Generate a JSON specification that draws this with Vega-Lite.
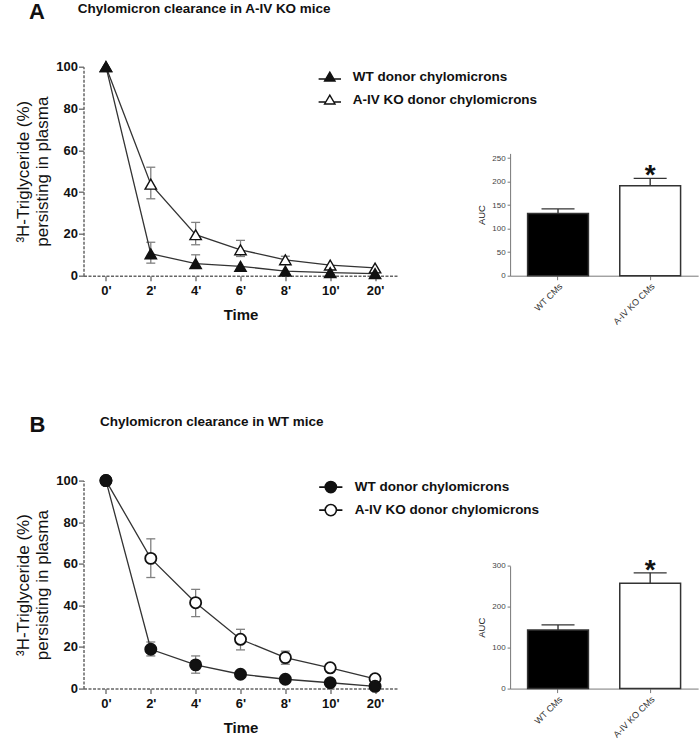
{
  "$schema": "https://vega.github.io/schema/vega-lite/v6.json",
  "padding": {"left": 14.5, "top": 0.7, "right": 0, "bottom": 0},
  "config": {"font": "Liberation Sans", "view": {"stroke": null}, "axis": {"grid": false}},
  "datasets": {
    "lineA": [
      {"time": "0'", "group": "A-IV KO donor chylomicrons", "value": 100},
      {"time": "2'", "group": "A-IV KO donor chylomicrons", "value": 43.8, "lo": 36.8, "hi": 51.9},
      {"time": "4'", "group": "A-IV KO donor chylomicrons", "value": 19.6, "lo": 14.8, "hi": 25.5},
      {"time": "6'", "group": "A-IV KO donor chylomicrons", "value": 12.4, "lo": 9.2, "hi": 16.9},
      {"time": "8'", "group": "A-IV KO donor chylomicrons", "value": 7.6, "lo": 6.0, "hi": 9.3},
      {"time": "10'", "group": "A-IV KO donor chylomicrons", "value": 5.1},
      {"time": "20'", "group": "A-IV KO donor chylomicrons", "value": 3.7},
      {"time": "0'", "group": "WT donor chylomicrons", "value": 100},
      {"time": "2'", "group": "WT donor chylomicrons", "value": 10.5, "lo": 6.0, "hi": 16.0},
      {"time": "4'", "group": "WT donor chylomicrons", "value": 5.8, "lo": 3.7, "hi": 10.0},
      {"time": "6'", "group": "WT donor chylomicrons", "value": 4.5},
      {"time": "8'", "group": "WT donor chylomicrons", "value": 2.2},
      {"time": "10'", "group": "WT donor chylomicrons", "value": 1.5},
      {"time": "20'", "group": "WT donor chylomicrons", "value": 1.0}
    ],
    "lineB": [
      {"time": "0'", "group": "A-IV KO donor chylomicrons", "value": 100},
      {"time": "2'", "group": "A-IV KO donor chylomicrons", "value": 62.6, "lo": 53.4, "hi": 72.0},
      {"time": "4'", "group": "A-IV KO donor chylomicrons", "value": 41.3, "lo": 34.6, "hi": 47.7},
      {"time": "6'", "group": "A-IV KO donor chylomicrons", "value": 23.7, "lo": 18.6, "hi": 28.5},
      {"time": "8'", "group": "A-IV KO donor chylomicrons", "value": 14.9, "lo": 11.7, "hi": 18.0},
      {"time": "10'", "group": "A-IV KO donor chylomicrons", "value": 10.0},
      {"time": "20'", "group": "A-IV KO donor chylomicrons", "value": 4.7},
      {"time": "0'", "group": "WT donor chylomicrons", "value": 100},
      {"time": "2'", "group": "WT donor chylomicrons", "value": 18.9, "lo": 15.7, "hi": 22.4},
      {"time": "4'", "group": "WT donor chylomicrons", "value": 11.4, "lo": 7.4, "hi": 15.7},
      {"time": "6'", "group": "WT donor chylomicrons", "value": 6.9},
      {"time": "8'", "group": "WT donor chylomicrons", "value": 4.5},
      {"time": "10'", "group": "WT donor chylomicrons", "value": 2.8},
      {"time": "20'", "group": "WT donor chylomicrons", "value": 1.1}
    ],
    "barA": [
      {"cat": "WT CMs", "auc": 132, "err": 142, "sig": ""},
      {"cat": "A-IV KO CMs", "auc": 191, "err": 207, "sig": "*"}
    ],
    "barB": [
      {"cat": "WT CMs", "auc": 143.5, "err": 155.7, "sig": ""},
      {"cat": "A-IV KO CMs", "auc": 257.6, "err": 283, "sig": "*"}
    ]
  },
  "resolve": {"scale": {"fill": "independent", "color": "independent"}},
  "spacing": 86.9,
  "vconcat": [
    {
      "title": {"text": "A", "anchor": "start", "frame": "group", "fontSize": 22, "fontWeight": "bold", "color": "#111", "offset": 0, "dx": -54.5, "dy": 22},
      "bounds": "flush",
      "spacing": 112.6,
      "resolve": {"scale": {"fill": "independent", "color": "independent"}},
      "hconcat": [
        {
          "width": 314, "height": 209,
          "data": {"name": "lineA"},
          "title": {"text": "Chylomicron clearance in A-IV KO mice", "anchor": "start", "frame": "group", "fontSize": 13.5, "fontWeight": "bold", "color": "#111", "offset": 43, "dx": -5.7},
          "encoding": {
            "x": {"field": "time", "type": "ordinal", "sort": ["0'", "2'", "4'", "6'", "8'", "10'", "20'"], "scale": {"type": "point", "padding": 0.5},
              "axis": {"title": "Time", "labelAngle": 0, "labelFontSize": 13, "labelFontWeight": "bold", "labelColor": "#111", "labelPadding": 4, "tickSize": 5, "tickColor": "#666", "tickWidth": 1.3, "domainColor": "#666", "domainWidth": 1.5, "domainDash": [3, 1.5], "titleFontSize": 15, "titleFontWeight": "bold", "titleColor": "#111", "titlePadding": 10}}
          },
          "layer": [
            {"mark": {"type": "rule", "color": "#808080", "strokeWidth": 1.3},
             "encoding": {"y": {"field": "lo", "type": "quantitative", "scale": {"domain": [0, 100]}, "axis": {"title": ["³H-Triglyceride (%)", "persisting in plasma"], "values": [0, 20, 40, 60, 80, 100], "labelFontSize": 13, "labelFontWeight": "bold", "labelColor": "#111", "labelPadding": 1, "tickSize": 5, "tickColor": "#666", "tickWidth": 1.3, "domainColor": "#666", "domainWidth": 1.5, "domainDash": [3, 1.5], "titleFontSize": 17, "titleFontWeight": "normal", "titleColor": "#111", "titlePadding": 4, "titleLineHeight": 19}}, "y2": {"field": "hi"}}},
            {"mark": {"type": "tick", "color": "#808080", "size": 9, "thickness": 1.3, "opacity": 1},
             "encoding": {"y": {"field": "lo", "type": "quantitative"}}},
            {"mark": {"type": "tick", "color": "#808080", "size": 9, "thickness": 1.3, "opacity": 1},
             "encoding": {"y": {"field": "hi", "type": "quantitative"}}},
            {"mark": {"type": "line", "color": "#333", "strokeWidth": 1.3},
             "encoding": {"y": {"field": "value", "type": "quantitative"}, "detail": {"field": "group"}}},
            {"mark": {"type": "point", "shape": "triangle-up", "filled": true, "size": 130, "stroke": "#111", "strokeWidth": 1.4, "opacity": 1},
             "encoding": {"y": {"field": "value", "type": "quantitative"},
               "fill": {"field": "group", "type": "nominal", "scale": {"domain": ["WT donor chylomicrons", "A-IV KO donor chylomicrons"], "range": ["#111", "#ffffff"]},
                 "legend": {"title": null, "orient": "none", "legendX": 237.3, "legendY": 1.3, "padding": 0, "labelFontSize": 13.5, "labelFontWeight": "bold", "labelColor": "#111", "labelOffset": 14, "labelLimit": 400, "rowPadding": 7, "symbolSize": 256, "symbolStrokeColor": "#111", "symbolStrokeWidth": 1.4,
                   "symbolType": "M-1.4,0.25H-0.5M0.5,0.25H1.4M0,-0.6L0.65,0.5L-0.65,0.5Z",
                   "encode": {"symbols": {"shape": {"value": "M-1.4,0.25H-0.5M0.5,0.25H1.4M0,-0.6L0.65,0.5L-0.65,0.5Z"}, "size": {"value": 256}, "stroke": {"value": "#111"}, "strokeWidth": {"value": 1.4}, "opacity": {"value": 1}}}}}}}
          ]
        },
        {
          "width": 188, "height": 209,
          "data": {"name": "barA"},
          "encoding": {
            "x": {"field": "cat", "type": "nominal", "sort": ["WT CMs", "A-IV KO CMs"], "scale": {"paddingInner": 0.34, "paddingOuter": 0.19},
              "axis": {"title": null, "labelAngle": -45, "labelFontSize": 9, "labelColor": "#333", "tickSize": 4, "tickColor": "#777", "domainColor": "#777", "labelPadding": 2}}
          },
          "layer": [
            {"mark": {"type": "bar", "stroke": "#333", "strokeWidth": 1.5},
             "encoding": {"y": {"field": "auc", "type": "quantitative", "scale": {"domain": [0, 250], "range": [209, 86.7]},
               "axis": {"title": "AUC", "values": [0, 50, 100, 150, 200, 250], "labelFontSize": 8, "labelColor": "#444", "tickSize": 3, "tickColor": "#777", "domainColor": "#777", "titleFontSize": 9.5, "titleFontWeight": "normal", "titleColor": "#222", "titlePadding": 5}},
               "color": {"field": "cat", "type": "nominal", "scale": {"domain": ["WT CMs", "A-IV KO CMs"], "range": ["#000000", "#ffffff"]}, "legend": null}}},
            {"mark": {"type": "rule", "color": "#333", "strokeWidth": 1.4},
             "encoding": {"y": {"field": "auc", "type": "quantitative"}, "y2": {"field": "err"}}},
            {"mark": {"type": "tick", "color": "#333", "size": 33, "thickness": 1.4, "opacity": 1},
             "encoding": {"y": {"field": "err", "type": "quantitative"}}},
            {"mark": {"type": "text", "fontSize": 28, "fontWeight": "bold", "color": "#111", "baseline": "alphabetic", "dy": 6},
             "encoding": {"y": {"field": "err", "type": "quantitative"}, "text": {"field": "sig"}}}
          ]
        }
      ]
    },
    {
      "title": {"text": "B", "anchor": "start", "frame": "group", "fontSize": 22, "fontWeight": "bold", "color": "#111", "offset": 0, "dx": -54, "dy": 22},
      "bounds": "flush",
      "spacing": 112.6,
      "resolve": {"scale": {"fill": "independent", "color": "independent"}},
      "hconcat": [
        {
          "width": 314, "height": 208,
          "data": {"name": "lineB"},
          "title": {"text": "Chylomicron clearance in WT mice", "anchor": "start", "frame": "group", "fontSize": 13.5, "fontWeight": "bold", "color": "#111", "offset": 43, "dx": 16.6},
          "encoding": {
            "x": {"field": "time", "type": "ordinal", "sort": ["0'", "2'", "4'", "6'", "8'", "10'", "20'"], "scale": {"type": "point", "padding": 0.5},
              "axis": {"title": "Time", "labelAngle": 0, "labelFontSize": 13, "labelFontWeight": "bold", "labelColor": "#111", "labelPadding": 4, "tickSize": 5, "tickColor": "#666", "tickWidth": 1.3, "domainColor": "#666", "domainWidth": 1.5, "domainDash": [3, 1.5], "titleFontSize": 15, "titleFontWeight": "bold", "titleColor": "#111", "titlePadding": 10}}
          },
          "layer": [
            {"mark": {"type": "rule", "color": "#808080", "strokeWidth": 1.3},
             "encoding": {"y": {"field": "lo", "type": "quantitative", "scale": {"domain": [0, 100]}, "axis": {"title": ["³H-Triglyceride (%)", "persisting in plasma"], "values": [0, 20, 40, 60, 80, 100], "labelFontSize": 13, "labelFontWeight": "bold", "labelColor": "#111", "labelPadding": 1, "tickSize": 5, "tickColor": "#666", "tickWidth": 1.3, "domainColor": "#666", "domainWidth": 1.5, "domainDash": [3, 1.5], "titleFontSize": 17, "titleFontWeight": "normal", "titleColor": "#111", "titlePadding": 4, "titleLineHeight": 19}}, "y2": {"field": "hi"}}},
            {"mark": {"type": "tick", "color": "#808080", "size": 9, "thickness": 1.3, "opacity": 1},
             "encoding": {"y": {"field": "lo", "type": "quantitative"}}},
            {"mark": {"type": "tick", "color": "#808080", "size": 9, "thickness": 1.3, "opacity": 1},
             "encoding": {"y": {"field": "hi", "type": "quantitative"}}},
            {"mark": {"type": "line", "color": "#333", "strokeWidth": 1.3},
             "encoding": {"y": {"field": "value", "type": "quantitative"}, "detail": {"field": "group"}}},
            {"mark": {"type": "point", "shape": "circle", "filled": true, "size": 125, "stroke": "#111", "strokeWidth": 1.8, "opacity": 1},
             "encoding": {"y": {"field": "value", "type": "quantitative"},
               "fill": {"field": "group", "type": "nominal", "scale": {"domain": ["WT donor chylomicrons", "A-IV KO donor chylomicrons"], "range": ["#111", "#ffffff"]},
                 "legend": {"title": null, "orient": "none", "legendX": 238.3, "legendY": -2.5, "padding": 0, "labelFontSize": 13.5, "labelFontWeight": "bold", "labelColor": "#111", "labelOffset": 15, "labelLimit": 400, "rowPadding": 5, "symbolSize": 256, "symbolStrokeColor": "#111", "symbolStrokeWidth": 1.6,
                   "symbolType": "M-1.45,0H-0.7M0.7,0H1.45M0.7,0A0.7,0.7 0 1 1 -0.7,0A0.7,0.7 0 1 1 0.7,0Z",
                   "encode": {"symbols": {"shape": {"value": "M-1.45,0H-0.7M0.7,0H1.45M0.7,0A0.7,0.7 0 1 1 -0.7,0A0.7,0.7 0 1 1 0.7,0Z"}, "size": {"value": 256}, "stroke": {"value": "#111"}, "strokeWidth": {"value": 1.6}, "opacity": {"value": 1}}}}}}}
          ]
        },
        {
          "width": 188, "height": 208,
          "data": {"name": "barB"},
          "encoding": {
            "x": {"field": "cat", "type": "nominal", "sort": ["WT CMs", "A-IV KO CMs"], "scale": {"paddingInner": 0.34, "paddingOuter": 0.19},
              "axis": {"title": null, "labelAngle": -45, "labelFontSize": 9, "labelColor": "#333", "tickSize": 4, "tickColor": "#777", "domainColor": "#777", "labelPadding": 2}}
          },
          "layer": [
            {"mark": {"type": "bar", "stroke": "#333", "strokeWidth": 1.5},
             "encoding": {"y": {"field": "auc", "type": "quantitative", "scale": {"domain": [0, 300], "range": [208, 85.3]},
               "axis": {"title": "AUC", "values": [0, 100, 200, 300], "labelFontSize": 8, "labelColor": "#444", "tickSize": 3, "tickColor": "#777", "domainColor": "#777", "titleFontSize": 9.5, "titleFontWeight": "normal", "titleColor": "#222", "titlePadding": 5}},
               "color": {"field": "cat", "type": "nominal", "scale": {"domain": ["WT CMs", "A-IV KO CMs"], "range": ["#000000", "#ffffff"]}, "legend": null}}},
            {"mark": {"type": "rule", "color": "#333", "strokeWidth": 1.4},
             "encoding": {"y": {"field": "auc", "type": "quantitative"}, "y2": {"field": "err"}}},
            {"mark": {"type": "tick", "color": "#333", "size": 33, "thickness": 1.4, "opacity": 1},
             "encoding": {"y": {"field": "err", "type": "quantitative"}}},
            {"mark": {"type": "text", "fontSize": 28, "fontWeight": "bold", "color": "#111", "baseline": "alphabetic", "dy": 6},
             "encoding": {"y": {"field": "err", "type": "quantitative"}, "text": {"field": "sig"}}}
          ]
        }
      ]
    }
  ]
}
